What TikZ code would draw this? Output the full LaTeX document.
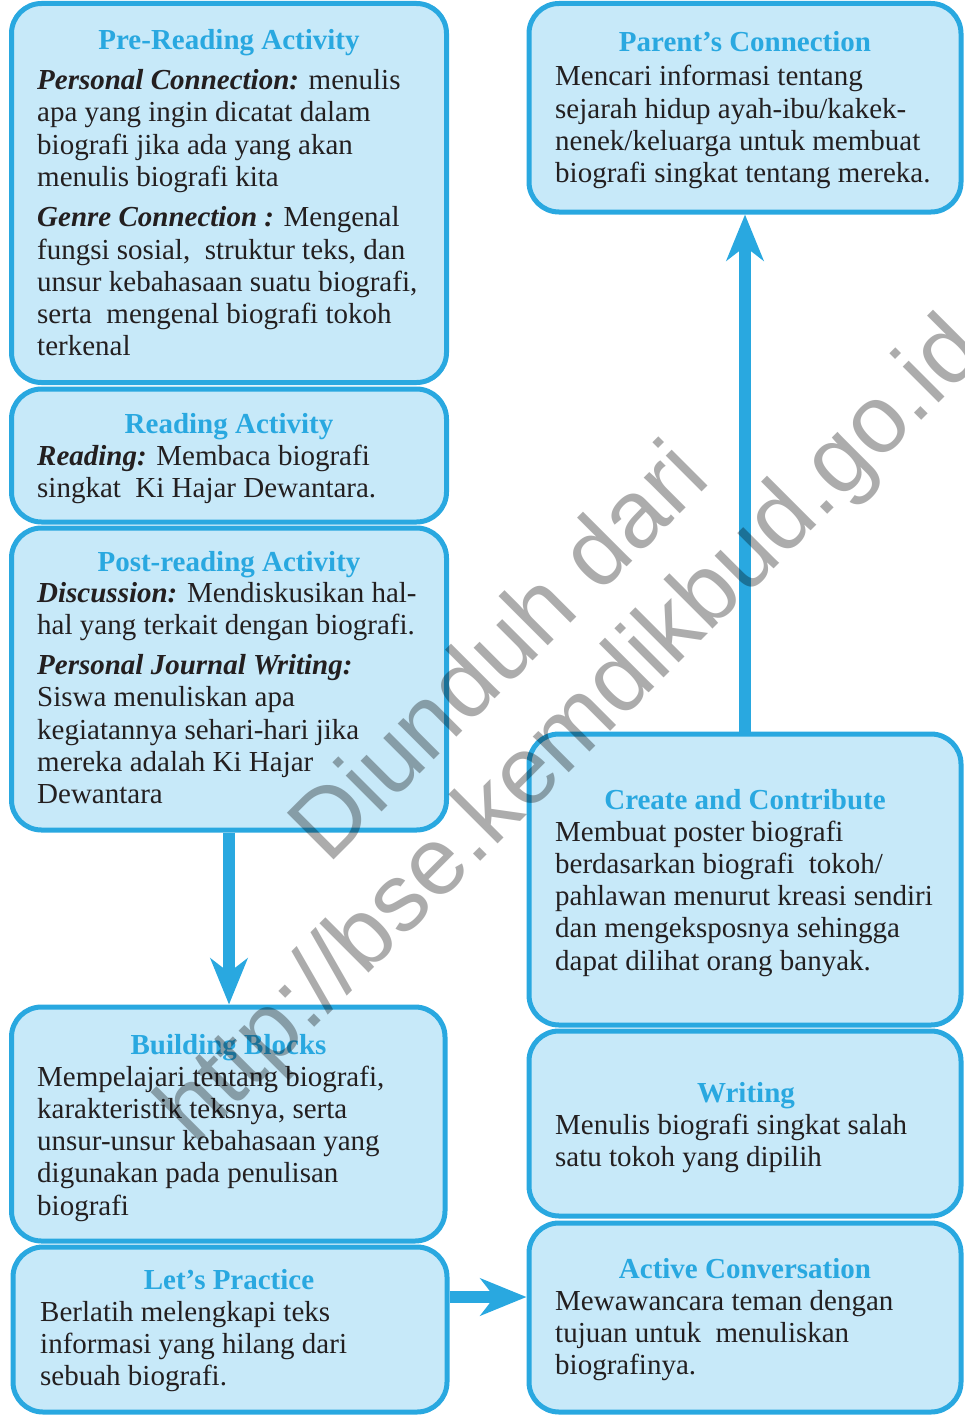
\documentclass[tikz,border=0pt]{standalone}
\usepackage{fontspec}
\setmainfont{Liberation Serif}
\newfontfamily\wmfont{Liberation Sans}
\usetikzlibrary{arrows.meta}
\definecolor{bxline}{RGB}{41,168,224}
\definecolor{bxfill}{RGB}{199,233,249}
\definecolor{txt}{RGB}{35,31,32}
\definecolor{wmgray}{RGB}{172,172,172}
\tikzset{
  box/.style={draw=bxline, fill=bxfill, line width=5pt, rounded corners=30pt, inner sep=0pt},
  ttl/.style={anchor=base, text=bxline, font=\fontsize{29}{32}\selectfont\bfseries, inner sep=0pt},
  body/.style={anchor=base west, text=txt, font=\fontsize{29}{32.3}\selectfont, inner sep=0pt},
  flow/.style={draw=bxline, line width=12pt, -{Stealth[length=46pt,width=37pt,inset=14pt]}},
  wm/.style={anchor=base west, rotate=45, inner sep=0pt, text=wmgray,
    font=\wmfont\fontsize{96}{96}\selectfont}
}
\newcommand{\bi}[1]{{\bfseries\itshape #1}}
\newcommand{\pbx}[1]{\parbox[t]{420pt}{#1}}
\begin{document}
\begin{tikzpicture}[x=1pt,y=-1pt]
\path[use as bounding box] (0,0) rectangle (965,1418);
\clip (0,0) rectangle (965,1418);

% left column boxes
\node[box, minimum width=435pt, minimum height=379pt] (pre) at (229,193) {};
\node[box, minimum width=435pt, minimum height=133pt] (read) at (229,455.5) {};
\node[box, minimum width=435pt, minimum height=302pt] (post) at (229,679) {};
\node[box, minimum width=433.5pt, minimum height=234pt] (build) at (228.25,1124) {};
\node[box, minimum width=434pt, minimum height=165pt] (prac) at (230,1329.5) {};
% right column boxes
\node[box, minimum width=432pt, minimum height=208.5pt] (par) at (745,107.75) {};
\node[box, minimum width=432pt, minimum height=291pt] (create) at (745,879.5) {};
\node[box, minimum width=432pt, minimum height=185pt] (writ) at (745,1123.5) {};
\node[box, minimum width=432pt, minimum height=189pt] (act) at (745,1317.5) {};

% texts
\node[ttl] (preT) at (229,50) {Pre-Reading Activity};
\node[body] (preB1) at (37,89.5) {\pbx{\bi{Personal Connection:} menulis\\ apa yang ingin dicatat dalam\\ biografi jika ada yang akan\\ menulis biografi kita}};
\node[body] (preB2) at (37,226.7) {\pbx{\bi{Genre Connection :} Mengenal\\ fungsi sosial,\ \ struktur teks, dan\\ unsur kebahasaan suatu biografi,\\ serta\ \ mengenal biografi tokoh\\ terkenal}};

\node[ttl] (readT) at (229,433) {Reading Activity};
\node[body] (readB) at (37,465) {\pbx{\bi{Reading:} Membaca biografi\\ singkat\ \ Ki Hajar Dewantara.}};

\node[ttl] (postT) at (229,571) {Post-reading Activity};
\node[body] (postB1) at (37,602.5) {\pbx{\bi{Discussion:} Mendiskusikan hal-\\ hal yang terkait dengan biografi.}};
\node[body] (postB2) at (37,674.5) {\pbx{\bi{Personal Journal Writing:}\\ Siswa menuliskan apa\\ kegiatannya sehari-hari jika\\ mereka adalah Ki Hajar\\ Dewantara}};

\node[ttl] (buildT) at (228.5,1054) {Building Blocks};
\node[body] (buildB) at (37,1086) {\pbx{Mempelajari tentang biografi,\\ karakteristik teksnya, serta\\ unsur-unsur kebahasaan yang\\ digunakan pada penulisan\\ biografi}};

\node[ttl] (pracT) at (229,1289) {Let’s Practice};
\node[body] (pracB) at (40,1321) {\pbx{Berlatih melengkapi teks\\ informasi yang hilang dari\\ sebuah biografi.}};

\node[ttl] (parT) at (745,52) {Parent’s Connection};
\node[body] (parB) at (555,86) {\pbx{Mencari informasi tentang\\ sejarah hidup ayah-ibu/kakek-\\ nenek/keluarga untuk membuat\\ biografi singkat tentang mereka.}};

\node[ttl] (createT) at (745,809) {Create and Contribute};
\node[body] (createB) at (555,841) {\pbx{Membuat poster biografi\\ berdasarkan biografi\ \ tokoh/\\ pahlawan menurut kreasi sendiri\\ dan mengeksposnya sehingga\\ dapat dilihat orang banyak.}};

\node[ttl] (writT) at (746,1102) {Writing};
\node[body] (writB) at (555,1134) {\pbx{Menulis biografi singkat salah\\ satu tokoh yang dipilih}};

\node[ttl] (actT) at (745,1278) {Active Conversation};
\node[body] (actB) at (555,1310) {\pbx{Mewawancara teman dengan\\ tujuan untuk\ \ menuliskan\\ biografinya.}};

% connectors
\coordinate (ra) at (0,1297);
\draw[flow] (post.south) -- (post.south |- build.north);
\draw[flow] (create.north) -- (par.south);
\draw[flow] (prac.east |- ra) -- (act.west |- ra);

% watermark
\begin{scope}[blend mode=multiply]
\node[wm] (wm1) at (328,866) {Diunduh dari};
\node[wm] (wm2) at (195,1147) {http://bse.kemdikbud.go.id};
\end{scope}
\end{tikzpicture}
\end{document}
